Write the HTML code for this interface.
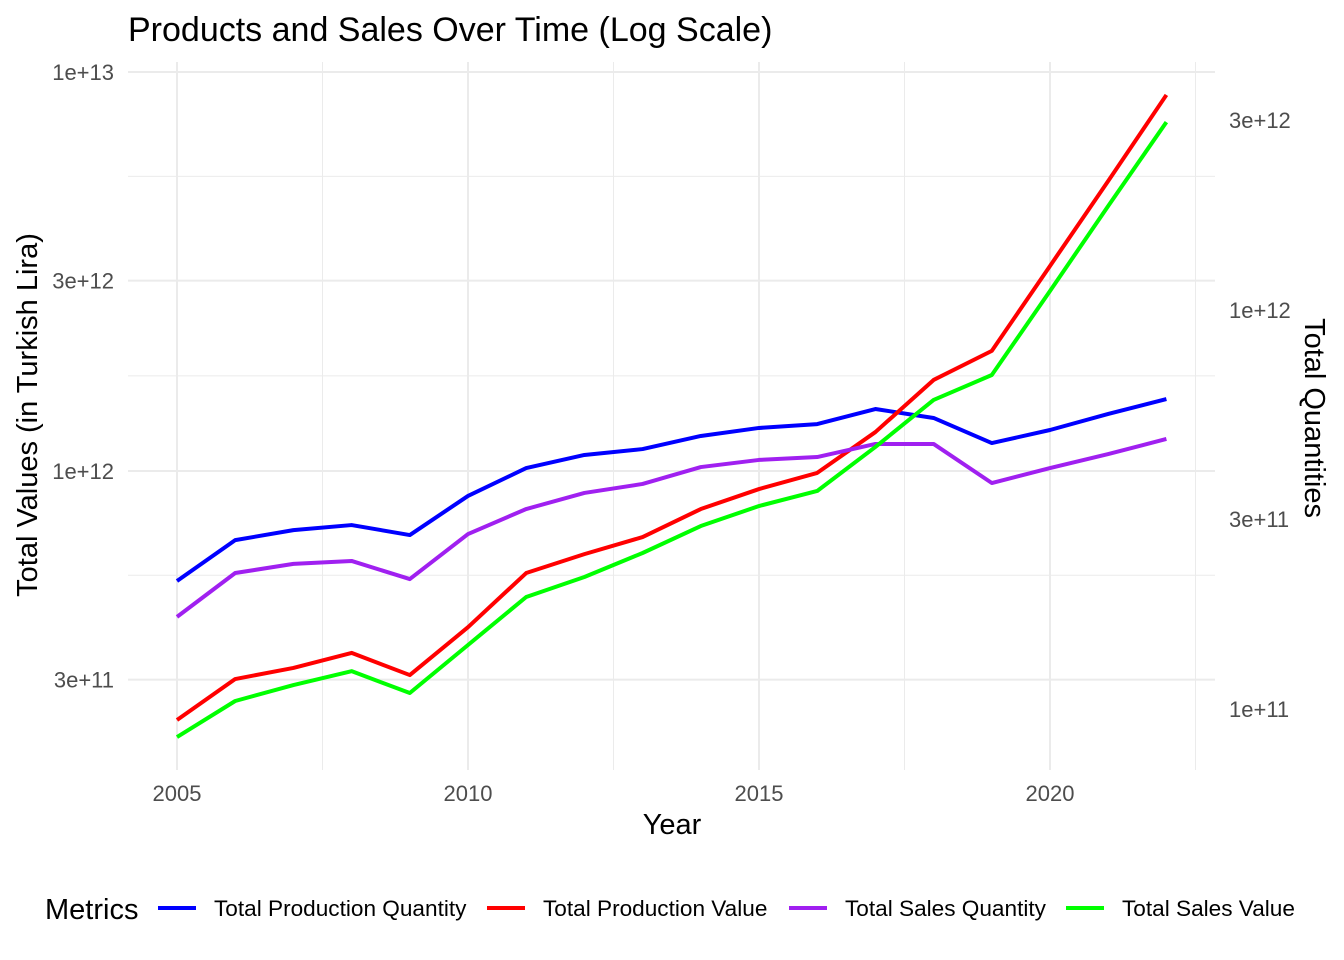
<!DOCTYPE html>
<html><head><meta charset="utf-8"><style>
body{margin:0;background:#fff;}
svg{display:block;font-family:"Liberation Sans",Arial,sans-serif;}
</style></head><body>
<svg id="chart" width="1344" height="960" viewBox="0 0 1344 960" xmlns="http://www.w3.org/2000/svg">
<text x="128" y="41" font-size="34" fill="#000">Products and Sales Over Time (Log Scale)</text>
<g id="grid"></g>
<g id="axes"></g>
<g id="series"></g>
<text x="672" y="834" font-size="29" text-anchor="middle" fill="#000">Year</text>
<text transform="translate(37,415) rotate(-90)" font-size="29" text-anchor="middle" fill="#000">Total Values (in Turkish Lira)</text>
<text transform="translate(1305,418) rotate(90)" font-size="29" text-anchor="middle" fill="#000">Total Quantities</text>
<g>
<text x="45" y="919" font-size="29" fill="#000">Metrics</text>
<g><line x1="158" x2="196" y1="908" y2="908" stroke="#0000ff" stroke-width="4"/><text x="214" y="916" font-size="22.6" fill="#000">Total Production Quantity</text></g>
<g><line x1="487" x2="525" y1="908" y2="908" stroke="#ff0000" stroke-width="4"/><text x="543" y="916" font-size="22.6" fill="#000">Total Production Value</text></g>
<g><line x1="789" x2="827" y1="908" y2="908" stroke="#a020f0" stroke-width="4"/><text x="845" y="916" font-size="22.6" fill="#000">Total Sales Quantity</text></g>
<g><line x1="1066" x2="1104" y1="908" y2="908" stroke="#00ff00" stroke-width="4"/><text x="1122" y="916" font-size="22.6" fill="#000">Total Sales Value</text></g>
</g>
</svg>
<script>
const years = [2005,2006,2007,2008,2009,2010,2011,2012,2013,2014,2015,2016,2017,2018,2019,2020,2021,2022];
// values in trillions (1e12), plotted on primary scale
const productionQuantity = [0.530,0.671,0.711,0.732,0.691,0.866,1.017,1.097,1.135,1.224,1.282,1.311,1.430,1.358,1.175,1.267,1.390,1.515];
const productionValue = [0.2376,0.301,0.321,0.350,0.308,0.406,0.555,0.619,0.683,0.803,0.901,0.989,1.252,1.691,2.000,3.265,5.33,8.76];
const salesQuantity = [0.431,0.555,0.585,0.595,0.536,0.695,0.803,0.881,0.928,1.023,1.066,1.084,1.169,1.169,0.933,1.017,1.103,1.203];
const salesValue = [0.2154,0.2652,0.2908,0.315,0.2777,0.3664,0.4833,0.5425,0.623,0.728,0.817,0.891,1.149,1.507,1.740,2.826,4.615,7.49];
const xTicks = [2005,2010,2015,2020];
const xMinor = [2007.5,2012.5,2017.5,2022.5];
const yTicks = [10,3,1,0.3];
const yTickLabels = ["1e+13","3e+12","1e+12","3e+11"];
const yMinor = [5.477,1.732,0.548];
const secTicks = [3,1,0.3,0.1];
const secTickLabels = ["3e+12","1e+12","3e+11","1e+11"];
const secFactor = 2.53;

const NS="http://www.w3.org/2000/svg";
const L=128,R=1215,T=62,B=770;
function xs(v){return 177+(v-2005)*(1050-177)/15;}
function ys(v){return 471-Math.log10(v)*399;}
function mk(tag,attrs,parent){const e=document.createElementNS(NS,tag);for(const k in attrs)e.setAttribute(k,attrs[k]);parent.appendChild(e);return e;}
const grid=document.getElementById('grid'),axes=document.getElementById('axes'),ser=document.getElementById('series');
yMinor.forEach(v=>{const l=mk('line',{x1:L,x2:R,y1:ys(v),y2:ys(v),stroke:'#ebebeb','stroke-width':1},grid);

});
xMinor.forEach(v=>{const l=mk('line',{x1:xs(v),x2:xs(v),y1:T,y2:B,stroke:'#ebebeb','stroke-width':1},grid);

});
yTicks.forEach((v,i)=>{const l=mk('line',{x1:L,x2:R,y1:ys(v),y2:ys(v),stroke:'#ebebeb','stroke-width':2},grid);


const t=mk('text',{x:114,y:ys(v)+8,'text-anchor':'end','font-size':22,fill:'#4d4d4d'},axes);t.textContent=yTickLabels[i];

});
xTicks.forEach(v=>{const l=mk('line',{x1:xs(v),x2:xs(v),y1:T,y2:B,stroke:'#ebebeb','stroke-width':2},grid);


const t=mk('text',{x:xs(v),y:801,'text-anchor':'middle','font-size':22,fill:'#4d4d4d'},axes);t.textContent=v;

});
secTicks.forEach((v,i)=>{const t=mk('text',{x:1229,y:ys(v*secFactor)+8,'font-size':22,fill:'#4d4d4d'},axes);t.textContent=secTickLabels[i];

});
[[productionQuantity,'#0000ff','line-production-quantity'],[productionValue,'#ff0000','line-production-value'],[salesQuantity,'#a020f0','line-sales-quantity'],[salesValue,'#00ff00','line-sales-value']].forEach(([d,c,n])=>{
const p=mk('polyline',{points:d.map((v,i)=>xs(years[i])+','+ys(v)).join(' '),fill:'none',stroke:c,'stroke-width':4,'stroke-linejoin':'round'},ser);

});
</script>
</body></html>
